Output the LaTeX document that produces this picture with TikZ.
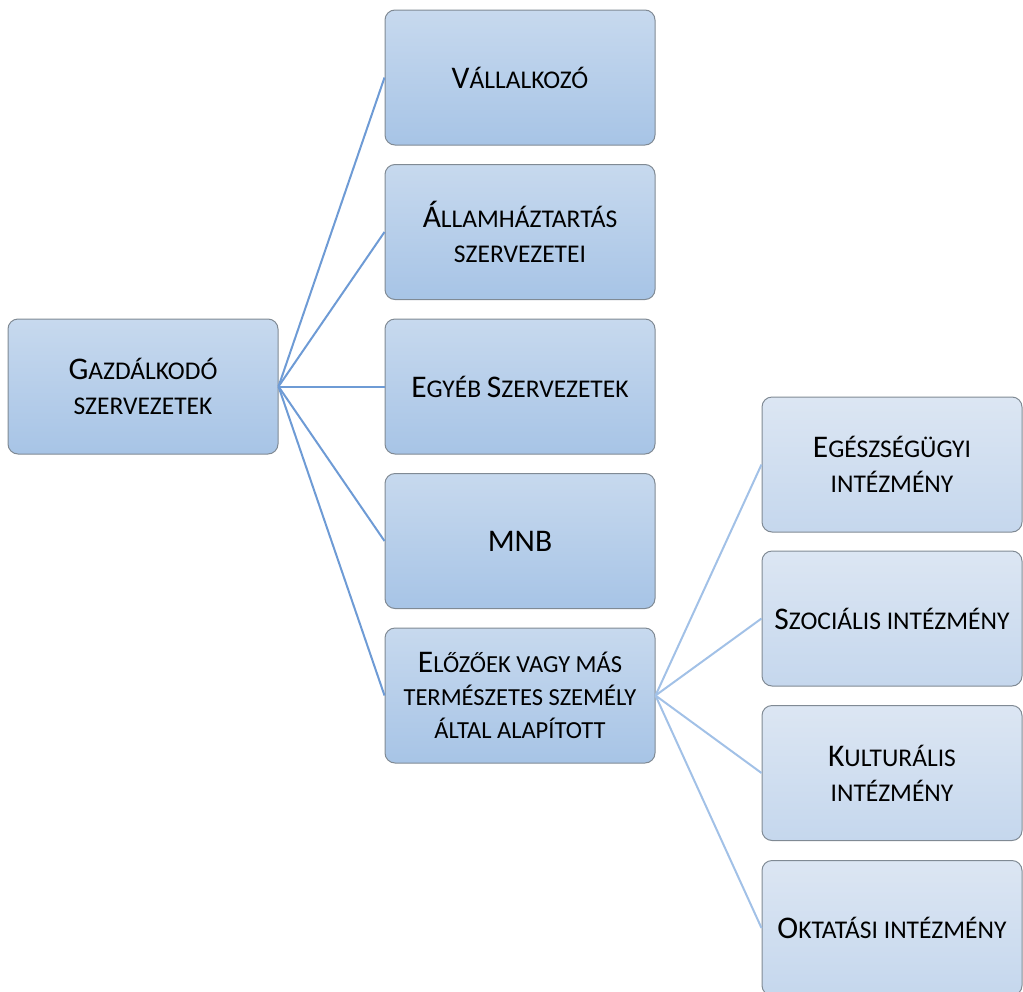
\documentclass[tikz,border=0pt]{standalone}
\usepackage{fontspec}
\setmainfont{Carlito}
\newcommand\Cap[1]{{\fontsize{31.5}{35}\selectfont #1}}
\definecolor{boxtopA}{HTML}{C7D9EE}
\definecolor{boxbotA}{HTML}{A7C4E6}
\definecolor{boxtopB}{HTML}{DCE6F3}
\definecolor{boxbotB}{HTML}{C5D7ED}
\definecolor{boxline}{HTML}{808A94}
\definecolor{linkA}{HTML}{6E9BD5}
\definecolor{linkB}{HTML}{A2C1E7}
\tikzset{
  boxbase/.style={draw=boxline, line width=1pt, rounded corners=10pt,
    minimum width=270pt, minimum height=135pt, align=center,
    font=\fontsize{25.5}{35}\selectfont, inner sep=2pt},
  darkbox/.style={boxbase, top color=boxtopA, bottom color=boxbotA},
  lightbox/.style={boxbase, top color=boxtopB, bottom color=boxbotB,
    minimum width=260pt},
  linkone/.style={draw=linkA, line width=2pt},
  linktwo/.style={draw=linkB, line width=2pt},
}
\begin{document}
\begin{tikzpicture}[x=1pt, y=-1pt]
\useasboundingbox (0,0) rectangle (1023,991);
\clip (0,0) rectangle (1023,991);
% root
\node[darkbox] (root) at (143,386.5) {\Cap{G}AZDÁLKODÓ\\SZERVEZETEK};
% first level
\node[darkbox] (a1) at (520,77.5) {\Cap{V}ÁLLALKOZÓ};
\node[darkbox] (a2) at (520,232) {\Cap{Á}LLAMHÁZTARTÁS\\SZERVEZETEI};
\node[darkbox] (a3) at (520,386.5) {\Cap{E}GYÉB \Cap{S}ZERVEZETEK};
\node[darkbox] (a4) at (520,541) {\Cap{MNB}};
\node[darkbox, font=\fontsize{24.5}{33}\selectfont] (a5) at (520,695.5)
  {\Cap{E}LŐZŐEK VAGY MÁS\\TERMÉSZETES SZEMÉLY\\ÁLTAL ALAPÍTOTT};
% second level
\node[lightbox] (b1) at (892,464.5) {\Cap{E}GÉSZSÉGÜGYI\\INTÉZMÉNY};
\node[lightbox] (b2) at (892,618.5) {\Cap{S}ZOCIÁLIS INTÉZMÉNY};
\node[lightbox] (b3) at (892,773) {\Cap{K}ULTURÁLIS\\INTÉZMÉNY};
\node[lightbox] (b4) at (892,928) {\Cap{O}KTATÁSI INTÉZMÉNY};
% connectors
\foreach \t in {a1,a2,a3,a4,a5}
  \draw[linkone] (root.east) -- (\t.west);
\foreach \t in {b1,b2,b3,b4}
  \draw[linktwo] (a5.east) -- (\t.west);
\end{tikzpicture}
\end{document}
